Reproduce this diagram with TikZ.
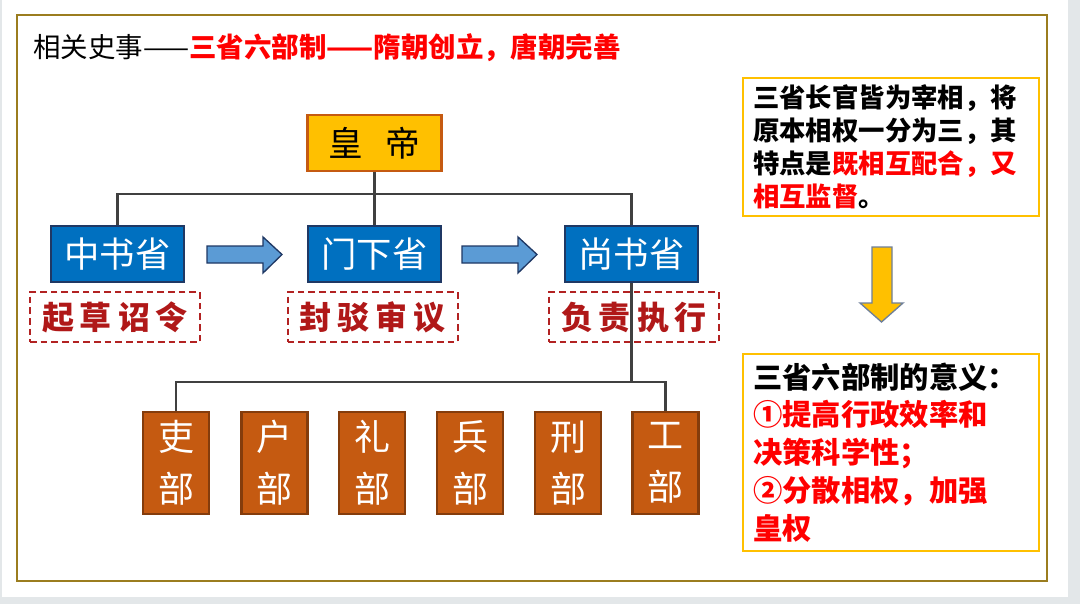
\documentclass[tikz,border=0pt]{standalone}
\usepackage{fontspec}
\setmainfont{Noto Sans CJK SC}
\pgfdeclarelayer{bg}
\pgfdeclarelayer{lines}
\pgfsetlayers{bg,lines,main}
\definecolor{pagegray}{HTML}{E3E7E9}
\definecolor{framec}{HTML}{9B7D1F}
\definecolor{empF}{HTML}{FFC000}
\definecolor{empB}{HTML}{C55A11}
\definecolor{blueF}{HTML}{0070C0}
\definecolor{navy}{HTML}{1F3864}
\definecolor{linec}{HTML}{404040}
\definecolor{dred}{HTML}{B22222}
\definecolor{dtext}{HTML}{B01818}
\definecolor{minF}{HTML}{C55A11}
\definecolor{minB}{HTML}{843C0C}
\definecolor{arrB}{HTML}{5B9BD5}
\definecolor{goldB}{HTML}{FFC000}
\definecolor{arrG}{HTML}{6E7F99}
\definecolor{bred}{HTML}{FF0000}
\begin{document}
\begin{tikzpicture}[x=0.75pt,y=-0.75pt,
  emp/.style={draw=empB, fill=empF, line width=2.2pt, minimum width=101pt, minimum height=42pt, inner sep=0pt, font=\fontsize{26}{30}\selectfont},
  sheng/.style={draw=navy, fill=blueF, line width=2.2pt, minimum width=99.75pt, minimum height=42pt, inner sep=0pt, text=white, font=\fontsize{26.5}{30}\selectfont},
  duty/.style={draw=dred, dashed, dash pattern=on 5pt off 3pt, line width=1.5pt, minimum width=127.5pt, minimum height=37.5pt, inner sep=0pt, text=dtext, font=\fontsize{24}{28}\bfseries\selectfont},
  ministry/.style={draw=minB, fill=minF, line width=2pt, minimum width=49.5pt, minimum height=76.5pt, inner sep=0pt, text=white, align=center, font=\fontsize{27}{39}\selectfont},
  note/.style={draw=goldB, line width=1.3pt, align=left, inner xsep=7.5pt, inner ysep=0pt},
  conn/.style={draw=linec, line width=2.2pt},
  blockarrow/.style={fill=arrB, draw=navy, line width=1pt, line join=miter},
  downarrow/.style={fill=goldB, draw=arrG, line width=1pt, line join=miter}
]
\useasboundingbox (0,0) rectangle (1080,604);
\begin{pgfonlayer}{bg}
  \fill[pagegray] (0,0) rectangle (1080,604);
  \fill[white] (2,0) rectangle (1068,597);
  \draw[framec, line width=1.6pt] (17,15) rectangle (1047,581);
\end{pgfonlayer}

% title
\node[anchor=west, inner sep=0pt, font=\fontsize{20.6}{24}\selectfont] (title) at (33,48)
  {相关史事——\textcolor{bred}{\bfseries 三省六部制——隋朝创立，唐朝完善}};

% emperor and three departments
\node[emp] (hd) at (374.5,143) {皇\hspace{0.65em}帝};
\node[sheng] (zs) at (117.5,254) {中书省};
\node[sheng] (mx) at (374.5,254) {门下省};
\node[sheng] (ss) at (631.5,254) {尚书省};

\node[duty] (d1) at (115,317) {起\hspace{4.5pt}草\hspace{4.5pt}诏\hspace{4.5pt}令};
\node[duty] (d2) at (372.5,317) {封\hspace{4.5pt}驳\hspace{4.5pt}审\hspace{4.5pt}议};
\node[duty] (d3) at (634,317) {负\hspace{4.5pt}责\hspace{4.5pt}执\hspace{4.5pt}行};

% six ministries
\node[ministry] (b1) at (176,463) {吏\\部};
\node[ministry] (b2) at (274.5,463) {户\\部};
\node[ministry] (b3) at (372,463) {礼\\部};
\node[ministry] (b4) at (470,463) {兵\\部};
\node[ministry] (b5) at (568,463) {刑\\部};
\node[ministry] (b6) at (665.5,463) {工\\部};

\coordinate (jH) at (0,194);
\coordinate (jL) at (0,382);

\begin{pgfonlayer}{lines}
  \draw[conn] (hd.south) -- (mx.north);
  \draw[conn] (zs.north) |- (ss.north |- jH) -- (ss.south |- jL);
  \draw[conn] (b1.north) |- (b6.north |- jL) -- (b6.north);
\end{pgfonlayer}

% block arrows
\draw[blockarrow] (207,246) -- (263,246) -- (263,237) -- (282,254.5) -- (263,273) -- (263,263) -- (207,263) -- cycle;
\draw[blockarrow] (462,246) -- (518,246) -- (518,237) -- (537,254.5) -- (518,273) -- (518,263) -- (462,263) -- cycle;

% right notes
\node[note, text width=207pt, minimum height=103.5pt, font=\fontsize{19.8}{24.75}\bfseries\selectfont] (n1) at (891,147)
  {三省长官皆为宰相，将\\原本相权一分为三，其\\特点是\textcolor{bred}{既相互配合，又}\\\textcolor{bred}{相互监督}。};

\draw[downarrow] (872,247) -- (892,247) -- (892,303) -- (903,303) -- (881.5,322) -- (860,303) -- (872,303) -- cycle;

\node[note, text width=207pt, minimum height=147.75pt, font=\fontsize{22}{28.4}\bfseries\selectfont] (n2) at (891,452.5)
  {三省六部制的意义：\\\textcolor{bred}{①提高行政效率和}\\\textcolor{bred}{决策科学性；}\\\textcolor{bred}{②分散相权，加强}\\\textcolor{bred}{皇权}};
\end{tikzpicture}
\end{document}
